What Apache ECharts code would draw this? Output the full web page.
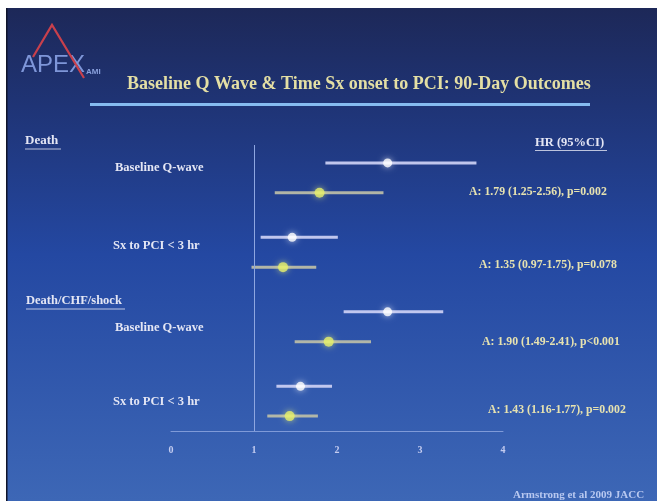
<!DOCTYPE html>
<html>
<head>
<meta charset="utf-8">
<script src="https://cdn.jsdelivr.net/npm/echarts@6/dist/echarts.min.js"></script>
<style>
html,body{margin:0;padding:0;background:#fff;}
#chart{width:657px;height:501px;}
</style>
</head>
<body>
<div id="chart"></div>
<script>
// ---- data ----
const outcomes = ['Death', 'Death/CHF/shock'];
const predictors = ['Baseline Q-wave', 'Sx to PCI < 3 hr'];
// rows: for each outcome, each predictor, unadjusted (white) then adjusted (yellow)
const rowKind = ['unadjusted','adjusted','unadjusted','adjusted','unadjusted','adjusted','unadjusted','adjusted'];
const hr     = [2.61, 1.79, 1.46, 1.35, 2.61, 1.90, 1.56, 1.43];
const ciLow  = [1.86, 1.25, 1.08, 0.97, 2.08, 1.49, 1.27, 1.16];
const ciHigh = [3.68, 2.56, 2.01, 1.75, 3.28, 2.41, 1.94, 1.77];
const annotations = [
  'A: 1.79 (1.25-2.56), p=0.002',
  'A: 1.35 (0.97-1.75), p=0.078',
  'A: 1.90 (1.49-2.41), p<0.001',
  'A: 1.43 (1.16-1.77), p=0.002'
];
const xTicks = [0, 1, 2, 3, 4];
const titleText = 'Baseline Q Wave & Time Sx onset to PCI: 90-Day Outcomes';
const hrHeader = 'HR (95%CI)';
const footer = 'Armstrong et al 2009 JACC';

// ---- layout helpers ----
const rowY = rowKind.map((k, i) => i + Math.floor(i / 2) * 0.5 + 1);
const chart = echarts.init(document.getElementById('chart'));

const ciData = rowKind.map((k, i) => [ciLow[i], ciHigh[i], rowY[i], k === 'adjusted' ? 1 : 0]);
const whitePts = [], yellowPts = [];
rowKind.forEach((k, i) => { (k === 'adjusted' ? yellowPts : whitePts).push([hr[i], rowY[i]]); });

const serif = '"Liberation Serif","DejaVu Serif",serif';
const labelColor = '#e4e6f4';
const annColor = '#e6e2b0';

const graphics = [
  // slide background
  {type:'rect', shape:{x:7, y:8, width:650, height:493}, z:-10, silent:true,
   style:{fill:new echarts.graphic.LinearGradient(0,0,0,1,[
     {offset:0, color:'#1d2858'},
     {offset:0.2, color:'#1f3476'},
     {offset:0.5, color:'#2448a2'},
     {offset:1, color:'#3d67b6'}])}},
  {type:'rect', shape:{x:6, y:8, width:1.5, height:493}, z:-9, style:{fill:'#10142a'}},
  // logo
  {type:'polyline', shape:{points:[[33,57],[52,25],[84,78]]}, z:5,
   style:{stroke:'#c8404c', lineWidth:2.2, fill:null}},
  {type:'text', x:21, y:53, z:4, style:{text:'APEX', font:'24px "Liberation Sans",Arial,sans-serif', fill:'#7e96d8'}},
  {type:'text', x:86, y:68, z:4, style:{text:'AMI', font:'bold 8px "Liberation Sans",Arial,sans-serif', fill:'#8aa0dc'}},
  // title
  {type:'text', x:127, y:75, style:{text:titleText, font:'bold 18px ' + serif, fill:'#e4dfa4'}},
  {type:'line', shape:{x1:90, y1:104.5, x2:590, y2:104.5}, style:{stroke:'#86bcf0', lineWidth:3}},
  // header
  {type:'text', x:535, y:136, style:{text:hrHeader, font:'bold 12.5px ' + serif, fill:labelColor}},
  {type:'line', shape:{x1:535, y1:150.5, x2:607, y2:150.5}, style:{stroke:labelColor, lineWidth:0.8}},
  // outcome labels
  {type:'text', x:25, y:134, style:{text:outcomes[0], font:'bold 13px ' + serif, fill:labelColor}},
  {type:'line', shape:{x1:25, y1:149, x2:61, y2:149}, style:{stroke:labelColor, lineWidth:0.8}},
  {type:'text', x:26, y:294, style:{text:outcomes[1], font:'bold 12.5px ' + serif, fill:labelColor}},
  {type:'line', shape:{x1:26, y1:309, x2:125, y2:309}, style:{stroke:labelColor, lineWidth:0.8}},
  // predictor labels
  {type:'text', x:115, y:161, style:{text:predictors[0], font:'bold 12.5px ' + serif, fill:labelColor}},
  {type:'text', x:113, y:239, style:{text:predictors[1], font:'bold 12.5px ' + serif, fill:labelColor}},
  {type:'text', x:115, y:321, style:{text:predictors[0], font:'bold 12.5px ' + serif, fill:labelColor}},
  {type:'text', x:113, y:395, style:{text:predictors[1], font:'bold 12.5px ' + serif, fill:labelColor}},
  // adjusted annotations
  {type:'text', x:469, y:186, style:{text:annotations[0], font:'bold 11.8px ' + serif, fill:annColor}},
  {type:'text', x:479, y:259, style:{text:annotations[1], font:'bold 11.8px ' + serif, fill:annColor}},
  {type:'text', x:482, y:336, style:{text:annotations[2], font:'bold 11.8px ' + serif, fill:annColor}},
  {type:'text', x:488, y:404, style:{text:annotations[3], font:'bold 11.8px ' + serif, fill:annColor}},
  // footer
  {type:'text', x:513, y:490, style:{text:footer, font:'bold 11px ' + serif, fill:'#b8c8f0'}}
];

chart.setOption({
  backgroundColor: '#ffffff',
  animation: false,
  grid: {left:171, right:154, top:145, bottom:70},
  xAxis: {
    type:'value', min:0, max:4, interval:1,
    axisLine:{show:true, lineStyle:{color:'#7f9ad8', width:1}},
    axisTick:{show:false},
    splitLine:{show:false},
    axisLabel:{color:'#c4ccf0', fontSize:10, fontWeight:'bold', fontFamily:serif, margin:14,
      formatter: v => xTicks.indexOf(v) >= 0 ? String(v) : ''}
  },
  yAxis: {
    type:'value', min:0.4, max:10, inverse:true,
    axisLine:{show:false}, axisTick:{show:false}, axisLabel:{show:false}, splitLine:{show:false}
  },
  graphic: graphics,
  series: [
    {
      type:'custom',
      data: ciData,
      encode:{x:[0,1], y:2},
      renderItem: function(params, api) {
        const p1 = api.coord([api.value(0), api.value(2)]);
        const p2 = api.coord([api.value(1), api.value(2)]);
        const adj = api.value(3) === 1;
        return {type:'line', shape:{x1:p1[0], y1:p1[1], x2:p2[0], y2:p2[1]},
          style:{stroke: adj ? '#b9bca8' : '#c9cdf2', lineWidth:3, opacity:0.95}};
      },
      markLine: {
        silent:true, symbol:'none', label:{show:false},
        lineStyle:{color:'#8ea6e0', width:1, type:'solid'},
        data:[{xAxis:1}]
      },
      z:2
    },
    {
      type:'scatter', data: whitePts, symbol:'circle', symbolSize:9,
      itemStyle:{color:'#ffffff', shadowBlur:6, shadowColor:'rgba(255,255,255,0.8)'}, z:3
    },
    {
      type:'scatter', data: yellowPts, symbol:'circle', symbolSize:10,
      itemStyle:{color:'#e6ef6c', shadowBlur:6, shadowColor:'rgba(240,250,120,0.8)'}, z:3
    }
  ]
});
</script>
</body>
</html>
